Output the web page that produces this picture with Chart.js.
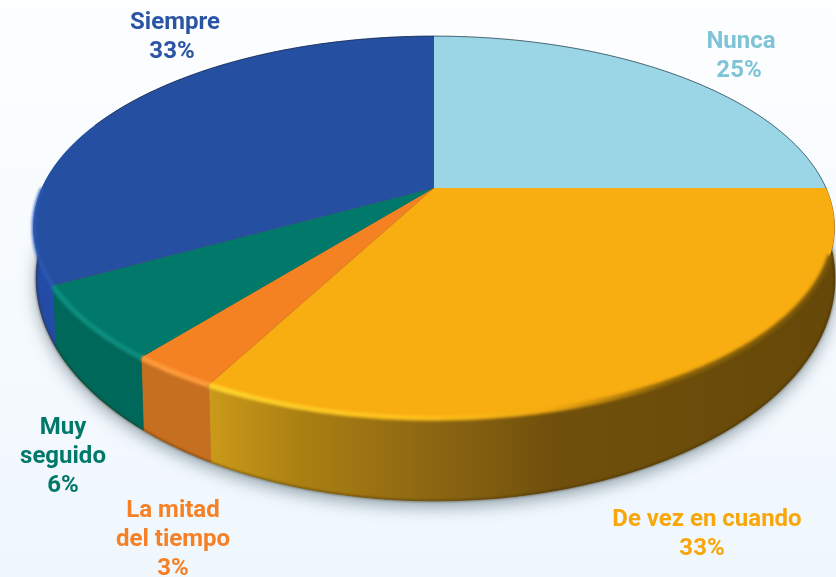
<!DOCTYPE html>
<html>
<head>
<meta charset="utf-8">
<script src="https://cdn.jsdelivr.net/npm/chart.js@4"></script>
<style>
html,body{margin:0;padding:0;width:836px;height:577px;overflow:hidden;background:linear-gradient(180deg,#fdfeff 0%,#f7fbfe 45%,#eff7fd 100%);}
canvas{display:block;}
</style>
</head>
<body>
<canvas id="c" width="836" height="577"></canvas>
<script>
const categories = ['Nunca','De vez en cuando','La mitad del tiempo','Muy seguido','Siempre'];
const values = [25,32.8,3,6.2,33];
const labelLines = [['Nunca'],['De vez en cuando'],['La mitad','del tiempo'],['Muy','seguido'],['Siempre']];
const faceColors = ['#9ad6e6','#f8ad10','#f58222','#00786a','#254fa0'];
const textColors = ['#7fc4d6','#f9a60a','#f58026','#00786a','#2a54a4'];

const labelAnchors = [[741,42],[707,520],[173,511],[63,428],[175,23]];
const percentShift = [-2,-5,0,0,-3];
const topRim = {cx:434,apexY:188,A:392,B:183,k:0.205};
const lowRim = {cx:435.5,apexY:233,A:391,B:213,k:0.205};
const wallStops = [
  [[0,'#7ab0c0'],[1,'#7ab0c0']],
  [[0.25,'#cb9a1a'],[0.36,'#ab8012'],[0.52,'#8c6612'],[0.66,'#70500c'],[1,'#664808']],
  [[0,'#c66f20'],[1,'#c66f20']],
  [[0,'#00685a'],[1,'#00685a']],
  [[0,'#234ca8'],[1,'#1f4596']]
];
const rimGlow = [
  null,
  [[0.25,'#ffd52e'],[0.5,'#ffc01a'],[0.66,'#f0a810'],[0.8,'#8a6208'],[1,'#7a5608']],
  [[0,'#ff9c3c'],[1,'#ff9c3c']],
  [[0,'#0e8f80'],[1,'#0e8f80']],
  [[0,'#2c5cba'],[1,'#2c5cba']]
];

function project(rim,a){
  const x=Math.cos(a), y=Math.sin(a), w=1-rim.k*y;
  return [rim.cx+rim.A*x/w, rim.apexY+rim.B*y/w];
}
function arcPoints(rim,a0,a1){
  const n=Math.max(2,Math.ceil(Math.abs(a1-a0)*80)), pts=[];
  for(let i=0;i<=n;i++) pts.push(project(rim,a0+(a1-a0)*i/n));
  return pts;
}
function trace(ctx,pts,move){
  pts.forEach((p,i)=>{ if(i===0&&move) ctx.moveTo(p[0],p[1]); else ctx.lineTo(p[0],p[1]); });
}
function xGrad(ctx,stops){
  const g=ctx.createLinearGradient(0,0,836,0);
  stops.forEach(s=>g.addColorStop(s[0],s[1]));
  return g;
}

const perspectivePie = {
  id:'perspectivePie',
  beforeDatasetDraw(chart,args){
    const ctx=chart.ctx, arcs=args.meta.data;
    ctx.save();
    // cast shadow
    ctx.save();
    ctx.shadowColor='rgba(55,80,95,0.5)';
    ctx.shadowBlur=16;
    ctx.shadowOffsetY=6;
    ctx.fillStyle='#6a5a30';
    ctx.beginPath();
    arcs.forEach((el,i)=>trace(ctx,arcPoints(lowRim,el.startAngle,el.endAngle),i===0));
    ctx.closePath();
    ctx.fill();
    ctx.restore();
    // walls
    arcs.forEach((el,i)=>{
      const up=arcPoints(topRim,el.startAngle,el.endAngle);
      const lo=arcPoints(lowRim,el.startAngle,el.endAngle).reverse();
      ctx.beginPath();
      trace(ctx,up,true); trace(ctx,lo,false); ctx.closePath();
      const g=xGrad(ctx,wallStops[i]);
      ctx.fillStyle=g; ctx.strokeStyle=g; ctx.lineWidth=0.6;
      ctx.fill(); ctx.stroke();
    });
    // dark lip along the bottom edge
    ctx.save();
    ctx.filter='blur(1px)';
    arcs.forEach((el,i)=>{
      ctx.beginPath();
      trace(ctx,arcPoints(lowRim,el.startAngle,el.endAngle),true);
      ctx.strokeStyle='rgba(50,35,5,0.45)';
      ctx.lineWidth=2;
      ctx.stroke();
    });
    ctx.restore();
    // top faces
    arcs.forEach((el,i)=>{
      ctx.beginPath();
      ctx.moveTo(topRim.cx,topRim.apexY);
      trace(ctx,arcPoints(topRim,el.startAngle,el.endAngle),false);
      ctx.closePath();
      ctx.fillStyle=faceColors[i];
      ctx.fill();
    });
    // bevel glow on the near rim
    ctx.save();
    ctx.filter='blur(1.6px)';
    ctx.lineCap='butt';
    arcs.forEach((el,i)=>{
      if(!rimGlow[i]) return;
      const a0=i===1?Math.max(el.startAngle,0.35):el.startAngle;
      const a1=i===4?Math.min(el.endAngle,Math.PI*1.0):el.endAngle;
      ctx.beginPath();
      trace(ctx,arcPoints(topRim,a0,a1),true);
      ctx.strokeStyle=xGrad(ctx,rimGlow[i]);
      ctx.lineWidth=i===4?3:5;
      ctx.stroke();
    });
    ctx.restore();
    // thin outline on the far rim
    ctx.beginPath();
    arcs.forEach((el,i)=>{
      if(i===0||i===4){
        const a0=i===4?Math.max(el.startAngle,Math.PI*1.12):el.startAngle;
        trace(ctx,arcPoints(topRim,a0,el.endAngle),i===4);
      }
    });
    ctx.strokeStyle='rgba(30,40,55,0.6)';
    ctx.lineWidth=1;
    ctx.stroke();
    ctx.restore();
    return false;
  },
  afterDatasetsDraw(chart){
    const ctx=chart.ctx, total=values.reduce((a,b)=>a+b,0);
    ctx.save();
    ctx.font='700 24px Roboto';
    ctx.textAlign='center';
    ctx.textBaseline='middle';
    categories.forEach((name,i)=>{
      const lines=labelLines[i];
      ctx.fillStyle=textColors[i];
      lines.forEach((t,j)=>ctx.fillText(t,labelAnchors[i][0],labelAnchors[i][1]+j*29));
      ctx.fillText(Math.round(values[i]/total*100)+'%',labelAnchors[i][0]+percentShift[i],labelAnchors[i][1]+lines.length*29);
    });
    ctx.restore();
  }
};

new Chart(document.getElementById('c'),{
  type:'pie',
  data:{labels:categories,datasets:[{data:values,backgroundColor:faceColors,borderWidth:0}]},
  options:{
    responsive:false,
    animation:false,
    plugins:{legend:{display:false},tooltip:{enabled:false},title:{display:false}}
  },
  plugins:[perspectivePie]
});
</script>
</body>
</html>
